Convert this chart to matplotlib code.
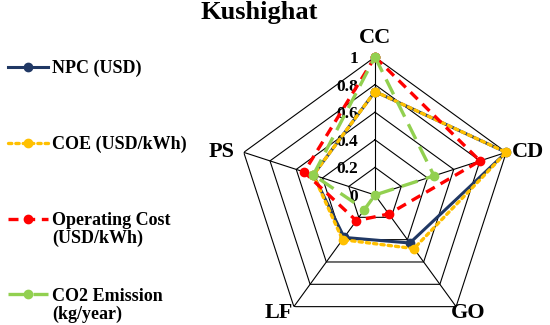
import numpy as np
import matplotlib
matplotlib.use("Agg")
import matplotlib.pyplot as plt
from matplotlib.lines import Line2D

plt.rcParams['font.family'] = ['Liberation Serif', 'DejaVu Serif']
plt.rcParams['font.weight'] = 'bold'

# data
categories = ['CC', 'CD', 'GO', 'LF', 'PS']
npc = [0.75, 1.0, 0.43, 0.38, 0.47]
coe = [0.75, 1.0, 0.48, 0.40, 0.47]
op_cost = [1.0, 0.80, 0.17, 0.23, 0.54]
co2 = [1.0, 0.45, 0.0, 0.13, 0.47]
levels = [0.2, 0.4, 0.6, 0.8, 1.0]
tick_labels = ['0', '0.2', '0.4', '0.6', '0.8', '1']

fig = plt.figure(figsize=(5.5, 3.25), dpi=100)
ax = fig.add_axes([0.4309, -0.0246, 0.5018, 0.8492], projection='polar')
ax.set_theta_offset(np.pi / 2)
ax.set_theta_direction(-1)
ax.set_ylim(0, 1)
ax.grid(False)
ax.set_xticks([])
ax.set_yticks([])
ax.spines['polar'].set_visible(False)
ax.patch.set_alpha(0)

ang = np.arange(len(categories)) * 2 * np.pi / len(categories)
ang_c = np.append(ang, ang[0])

def closed(v):
    return np.append(v, v[0])

# pentagon grid
for lev in levels:
    ax.plot(ang_c, [lev] * len(ang_c), color='black', lw=0.8, zorder=1)
for a in ang:
    ax.plot([a, a], [0, 1], color='black', lw=0.8, zorder=1)

series = [
    ('NPC (USD)', npc, '#203864', '-', 2.2),
    ('COE (USD/kWh)', coe, '#FFC000', (0, (1, 1.2)), 2.4),
    ('Operating Cost', op_cost, '#FF0000', (0, (3, 2)), 2.4),
    ('CO2 Emission', co2, '#92D050', (0, (5, 2.5)), 2.4),
]
handles = []
for i, (lab, vals, col, ls, lw) in enumerate(series):
    ln, = ax.plot(ang_c, closed(vals), color=col, ls=ls, lw=lw,
                  marker='o', ms=6, mfc=col, mec=col,
                  dash_capstyle='round' if i == 1 else 'butt',
                  zorder=3 + i, clip_on=False)
    handles.append(Line2D([], [], color=col, ls=ls, lw=lw, marker='o', ms=6,
                          dash_capstyle='round' if i == 1 else 'butt'))

# category labels
offsets = [(0, 19), (22, 0), (12, -6), (-15, -6), (-22, 0)]
for a, lab, off in zip(ang, categories, offsets):
    ax.annotate(lab, (a, 1), xytext=off, textcoords='offset pixels',
                ha='center', va='center', fontsize=16, fontweight='bold',
                annotation_clip=False)

# radial tick labels
for lev, t in zip([0] + levels, tick_labels):
    ax.annotate(t, (0, lev), xytext=(-17, -2), textcoords='offset pixels',
                ha='right', va='center', fontsize=12.5, fontweight='bold',
                zorder=2, annotation_clip=False)

fig.text(259 / 550, 1 - 13 / 325, 'Kushighat', ha='center', va='center',
         fontsize=19, fontweight='bold')

leg = fig.legend(handles, [s[0] for s in series], loc='upper left',
                 bbox_to_anchor=(8 / 550, 0.815), frameon=False, fontsize=13,
                 handlelength=2.2, handletextpad=0.25, labelspacing=3.25,
                 borderaxespad=0, borderpad=0)
fig.canvas.draw()
second = [None, None, '(USD/kWh)', '(kg/year)']
for t, s in zip(leg.get_texts(), second):
    if s:
        bb = t.get_window_extent()
        fig.text(bb.x0, bb.y0 - 1, s, transform=None, ha='left', va='top',
                 fontsize=13, fontweight='bold')

fig.savefig('out.png', dpi=100)
